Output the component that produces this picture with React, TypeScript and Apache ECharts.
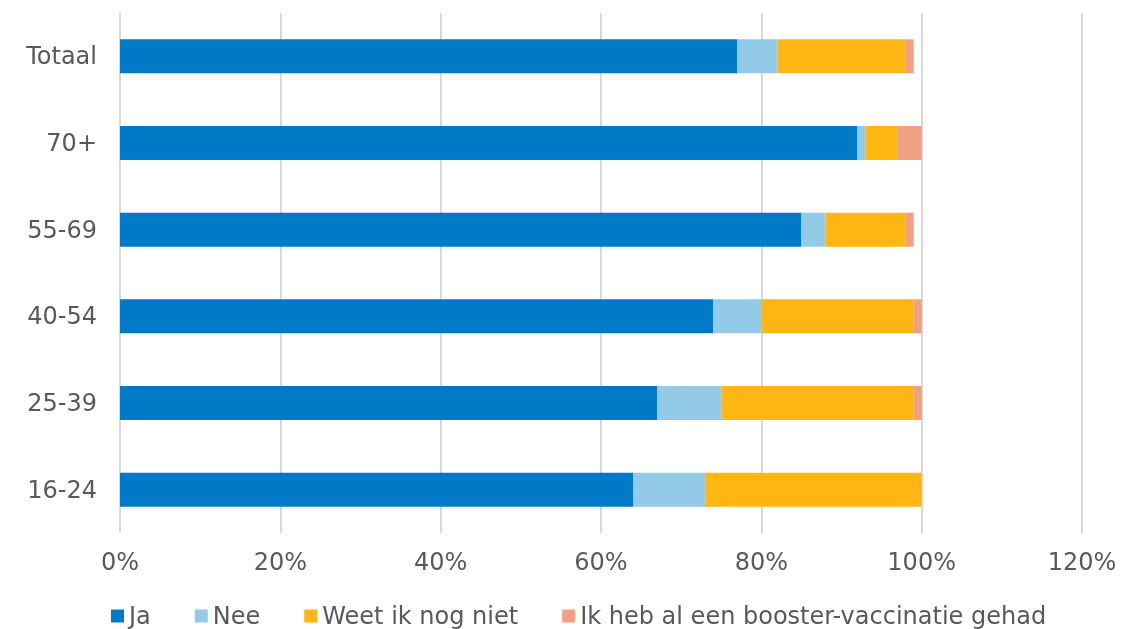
import React, { useEffect, useRef } from "react";
import * as echarts from "echarts";

const categories = ["16-24", "25-39", "40-54", "55-69", "70+", "Totaal"];
const ja = [64, 67, 74, 85, 92, 77];
const nee = [9, 8, 6, 3, 1, 5];
const weet = [27, 24, 19, 10, 4, 16];
const booster = [0, 1, 1, 1, 3, 1];
const seriesNames = ["Ja", "Nee", "Weet ik nog niet", "Ik heb al een booster-vaccinatie gehad"];
const colors = ["#007AC7", "#93CAE7", "#FFB612", "#F0A083"];

export default function App() {
  const ref = useRef<HTMLDivElement>(null);
  useEffect(() => {
    const chart = echarts.init(ref.current!, null, { renderer: "svg" });
    const font = "DejaVu Sans, Verdana, sans-serif";
    const data = [ja, nee, weet, booster];
    chart.setOption({
      animation: false,
      color: colors,
      grid: { left: 120, right: 41, top: 13, bottom: 96 },
      legend: {
        top: 604,
        left: 111,
        padding: 0,
        icon: "rect",
        itemWidth: 13,
        itemHeight: 13,
        itemGap: 44,
        textStyle: { color: "#595959", fontSize: 24, lineHeight: 22, fontFamily: font },
        data: seriesNames,
      },
      xAxis: {
        type: "value",
        min: 0,
        max: 120,
        interval: 20,
        axisLine: { show: false },
        axisTick: { show: false },
        axisLabel: {
          formatter: "{value}%",
          color: "#595959",
          fontSize: 24,
          fontFamily: font,
          margin: 17,
        },
        splitLine: { show: true, lineStyle: { color: "#D9D9D9", width: 2 } },
      },
      yAxis: {
        type: "category",
        data: categories,
        axisLine: { show: false },
        axisTick: { show: false },
        axisLabel: { color: "#595959", fontSize: 24, fontFamily: font, margin: 23 },
      },
      series: seriesNames.map((name, i) => ({
        name,
        type: "bar",
        stack: "total",
        barWidth: 34,
        data: data[i],
        itemStyle: { color: colors[i] },
      })),
    });
    return () => chart.dispose();
  }, []);
  return (
    <div
      ref={ref}
      style={{ position: "fixed", left: 0, top: 0, width: 1123, height: 629 }}
    />
  );
}
